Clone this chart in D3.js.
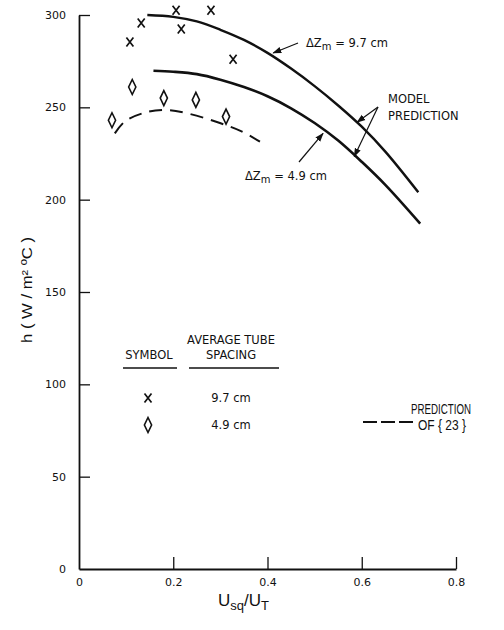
<!DOCTYPE html>
<html>
<head>
<meta charset="utf-8">
<script src="https://cdn.jsdelivr.net/npm/d3@7"></script>
<style>
  html, body { margin: 0; padding: 0; background: #fff; }
  svg { display: block; }
  text { fill: #111; }
  .lbl { font-family: "DejaVu Sans", sans-serif; font-size: 11.5px; }
  .narrow { font-family: "Liberation Sans", sans-serif; }
  .tick text { font-family: "DejaVu Sans", sans-serif; font-size: 11px; }
</style>
</head>
<body>
<svg id="chart" width="504" height="630"></svg>
<script>
// Heat transfer coefficient h versus velocity ratio Usq/UT

// Model prediction, tube spacing 9.7 cm
const model97U = [0.145, 0.20, 0.25, 0.30, 0.35, 0.40, 0.45, 0.50, 0.55, 0.60, 0.65, 0.72];
const model97H = [300, 299, 296.5, 292, 286.5, 279.5, 271, 261.5, 251, 239.5, 226, 204];

// Model prediction, tube spacing 4.9 cm
const model49U = [0.158, 0.20, 0.25, 0.30, 0.35, 0.40, 0.45, 0.50, 0.55, 0.60, 0.65, 0.724];
const model49H = [269.8, 269.3, 268, 265, 261, 256, 249.5, 241.5, 232, 220.5, 208, 187];

// Prediction of [23] (dashed)
const refU = [0.076, 0.098, 0.144, 0.186, 0.229, 0.299, 0.345, 0.384];
const refH = [235.9, 242.5, 247.4, 248.5, 246.8, 241.5, 237, 231.4];

// Measurements, 9.7 cm spacing (x symbols)
const meas97U = [0.108, 0.132, 0.206, 0.217, 0.280, 0.327];
const meas97H = [285.4, 295.7, 302.6, 292.4, 302.6, 276];

// Measurements, 4.9 cm spacing (diamond symbols)
const meas49U = [0.070, 0.113, 0.180, 0.248, 0.312];
const meas49H = [243, 261, 255, 254, 245];

// Axis ticks
const xTicks = [0, 0.2, 0.4, 0.6, 0.8];
const xTickLabels = ["0", "0.2", "0.4", "0.6", "0.8"];
const yTicks = [0, 50, 100, 150, 200, 250, 300];
const yTickLabels = ["0", "50", "100", "150", "200", "250", "300"];

const svg = d3.select("#chart");
const x = d3.scaleLinear().domain([0, 0.8]).range([79, 456]);
const y = d3.scaleLinear().domain([0, 300]).range([569, 15]);

const zip = (us, hs) => us.map((u, i) => [u, hs[i]]);

// Axes
const yAxis = d3.axisLeft(y)
  .tickValues(yTicks)
  .tickFormat((d, i) => yTickLabels[i])
  .tickSizeInner(-11).tickSizeOuter(0).tickPadding(13);
const gy = svg.append("g").attr("transform", `translate(${x(0)},0)`).call(yAxis);
gy.select(".domain").attr("stroke", "#111").attr("stroke-width", 1.8);
gy.selectAll(".tick line").attr("stroke", "#111").attr("stroke-width", 1.3);
gy.selectAll(".tick").filter(d => d === 0).select("line").remove();

const xAxis = d3.axisBottom(x)
  .tickValues(xTicks)
  .tickFormat((d, i) => xTickLabels[i])
  .tickSizeInner(-12).tickSizeOuter(0).tickPadding(9);
const gx = svg.append("g").attr("transform", `translate(0,${y(0)})`).call(xAxis);
gx.select(".domain").attr("stroke", "#111").attr("stroke-width", 1.8);
gx.selectAll(".tick line").attr("stroke", "#111").attr("stroke-width", 1.3);
gx.selectAll(".tick").filter(d => d === 0).select("line").remove();
svg.selectAll(".tick text").attr("fill", "#111");

// Axis titles (condensed lettering)
svg.append("text").attr("class", "narrow")
  .attr("transform", `translate(32,290) rotate(-90)`)
  .attr("text-anchor", "middle").attr("font-size", 15)
  .attr("textLength", 106).attr("lengthAdjust", "spacingAndGlyphs")
  .text("h ( W / m\u00B2 \u00BAC )");

const xt = svg.append("text").attr("class", "narrow")
  .attr("x", 218).attr("y", 606).attr("font-size", 17);
xt.append("tspan").text("U");
xt.append("tspan").attr("font-size", 13).attr("dy", 4).text("sq");
xt.append("tspan").attr("dy", -4).text("/U");
xt.append("tspan").attr("font-size", 13).attr("dy", 4).text("T");

// Curves
const line = d3.line().x(d => x(d[0])).y(d => y(d[1])).curve(d3.curveCatmullRom.alpha(0.5));

svg.append("path").datum(zip(model97U, model97H))
  .attr("d", line).attr("fill", "none").attr("stroke", "#111").attr("stroke-width", 2.4);
svg.append("path").datum(zip(model49U, model49H))
  .attr("d", line).attr("fill", "none").attr("stroke", "#111").attr("stroke-width", 2.6);
svg.append("path").datum(zip(refU, refH))
  .attr("d", line).attr("fill", "none").attr("stroke", "#111").attr("stroke-width", 2)
  .attr("stroke-dasharray", "13 8");

// Symbols
const xMark = "M-3.5,-4.5L3.5,4.5M3.5,-4.5L-3.5,4.5";
const diamond = "M0,-7.5L3.6,0L0,7.5L-3.6,0Z";

svg.append("g").selectAll("path").data(zip(meas97U, meas97H)).join("path")
  .attr("transform", d => `translate(${x(d[0])},${y(d[1])})`)
  .attr("d", xMark).attr("fill", "none").attr("stroke", "#111").attr("stroke-width", 1.7);
svg.append("g").selectAll("path").data(zip(meas49U, meas49H)).join("path")
  .attr("transform", d => `translate(${x(d[0])},${y(d[1])})`)
  .attr("d", diamond).attr("fill", "none").attr("stroke", "#111").attr("stroke-width", 1.6);

// Arrow annotations
svg.append("defs").append("marker")
  .attr("id", "ah").attr("viewBox", "0 0 10 10").attr("refX", 9).attr("refY", 5)
  .attr("markerWidth", 9).attr("markerHeight", 9).attr("markerUnits", "userSpaceOnUse")
  .attr("orient", "auto")
  .append("path").attr("d", "M0,1.5L10,5L0,8.5Z").attr("fill", "#111");

function arrow(x1, y1, x2, y2) {
  svg.append("line").attr("x1", x1).attr("y1", y1).attr("x2", x2).attr("y2", y2)
    .attr("stroke", "#111").attr("stroke-width", 1.2).attr("marker-end", "url(#ah)");
}
arrow(298, 43, x(0.41) + 1, y(280.5) + 2);
arrow(378, 107, x(0.588) + 1, y(242.5) + 1);
arrow(378, 107, x(0.582) + 1, y(224.5) + 2);
arrow(299, 162, x(0.52) - 1, y(237.5) + 3);

function dzLabel(px, py, val) {
  const t = svg.append("text").attr("class", "lbl").attr("x", px).attr("y", py).attr("font-size", 12);
  t.append("tspan").text("\u0394Z");
  t.append("tspan").attr("font-size", 10).attr("dy", 3).text("m");
  t.append("tspan").attr("dy", -3).text(" = " + val + " cm");
}
dzLabel(306, 47, "9.7");
dzLabel(245, 180, "4.9");

svg.append("text").attr("class", "lbl").attr("font-size", 12).attr("x", 388).attr("y", 103).text("MODEL");
svg.append("text").attr("class", "lbl").attr("font-size", 12).attr("x", 388).attr("y", 120).text("PREDICTION");

// Legend
svg.append("text").attr("class", "lbl").attr("x", 149).attr("y", 359).attr("text-anchor", "middle").text("SYMBOL");
svg.append("text").attr("class", "lbl").attr("x", 231).attr("y", 344).attr("text-anchor", "middle").text("AVERAGE TUBE");
svg.append("text").attr("class", "lbl").attr("x", 231).attr("y", 359).attr("text-anchor", "middle").text("SPACING");
svg.append("line").attr("x1", 123).attr("x2", 177).attr("y1", 368).attr("y2", 368).attr("stroke", "#111").attr("stroke-width", 1.3);
svg.append("line").attr("x1", 189).attr("x2", 279).attr("y1", 368).attr("y2", 368).attr("stroke", "#111").attr("stroke-width", 1.3);

svg.append("path").attr("transform", "translate(148,398)").attr("d", xMark)
  .attr("fill", "none").attr("stroke", "#111").attr("stroke-width", 1.7);
svg.append("path").attr("transform", "translate(148,425)").attr("d", diamond)
  .attr("fill", "none").attr("stroke", "#111").attr("stroke-width", 1.6);
svg.append("text").attr("class", "lbl").attr("x", 231).attr("y", 402).attr("text-anchor", "middle").text("9.7 cm");
svg.append("text").attr("class", "lbl").attr("x", 231).attr("y", 429).attr("text-anchor", "middle").text("4.9 cm");

svg.append("line").attr("x1", 363).attr("x2", 413).attr("y1", 422).attr("y2", 422)
  .attr("stroke", "#111").attr("stroke-width", 2).attr("stroke-dasharray", "14 4");
svg.append("text").attr("class", "narrow").attr("font-size", 14).attr("x", 441).attr("y", 414)
  .attr("text-anchor", "middle").attr("textLength", 60).attr("lengthAdjust", "spacingAndGlyphs").text("PREDICTION");
svg.append("text").attr("class", "narrow").attr("font-size", 14).attr("x", 442).attr("y", 430)
  .attr("text-anchor", "middle").attr("textLength", 48).attr("lengthAdjust", "spacingAndGlyphs").text("OF { 23 }");
</script>
</body>
</html>
